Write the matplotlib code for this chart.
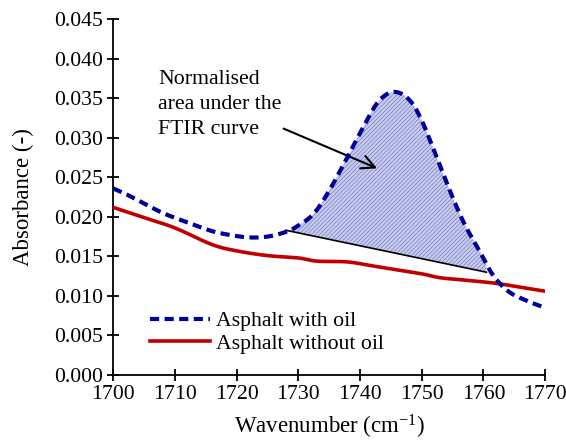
import numpy as np
import matplotlib
matplotlib.use("Agg")
import matplotlib.pyplot as plt

plt.rcParams['font.family'] = ['Liberation Serif', 'DejaVu Serif']
plt.rcParams['mathtext.fontset'] = 'custom'
plt.rcParams['mathtext.rm'] = 'Liberation Serif'
plt.rcParams['mathtext.it'] = 'Liberation Serif:italic'

# Data
wn_oil = [1700, 1702, 1705, 1708, 1712, 1716, 1719, 1722, 1725, 1728, 1730, 1732.5,
          1735, 1738, 1740.5, 1743, 1745.5, 1748, 1750, 1752.5, 1755, 1757, 1759.5,
          1761.5, 1764, 1767, 1770]
abs_oil = [0.0236, 0.0229, 0.0217, 0.0205, 0.0193, 0.0182, 0.0177, 0.0174, 0.0175,
           0.0181, 0.0189, 0.0204, 0.0233, 0.0276, 0.0313, 0.0346, 0.0358, 0.0348,
           0.0322, 0.0274, 0.0225, 0.0190, 0.0155, 0.0127, 0.0106, 0.0094, 0.0085]

wn_no = [1700, 1705, 1710, 1716, 1720, 1725, 1730, 1733, 1738, 1742, 1746, 1750,
         1753, 1757, 1762, 1766, 1770]
abs_no = [0.0212, 0.0199, 0.0186, 0.0165, 0.0157, 0.0151, 0.0148, 0.0144, 0.0143,
          0.0138, 0.0133, 0.0128, 0.0123, 0.0120, 0.0116, 0.0111, 0.0106]

base_x = [1728, 1760.5]
base_y = [0.0183, 0.0130]

xticks = [1700, 1710, 1720, 1730, 1740, 1750, 1760, 1770]
yticks = [0.000, 0.005, 0.010, 0.015, 0.020, 0.025, 0.030, 0.035, 0.040, 0.045]


def smooth(x, y, n=12):
    """Catmull-Rom spline through the points, for drawing only."""
    x = np.asarray(x, float)
    y = np.asarray(y, float)
    px = np.concatenate(([2 * x[0] - x[1]], x, [2 * x[-1] - x[-2]]))
    py = np.concatenate(([2 * y[0] - y[1]], y, [2 * y[-1] - y[-2]]))
    ox, oy = [], []
    for i in range(1, len(px) - 2):
        t = np.linspace(0, 1, n, endpoint=False)
        for p, o in ((px, ox), (py, oy)):
            p0, p1, p2, p3 = p[i - 1], p[i], p[i + 1], p[i + 2]
            o.extend(0.5 * ((2 * p1) + (-p0 + p2) * t +
                            (2 * p0 - 5 * p1 + 4 * p2 - p3) * t ** 2 +
                            (-p0 + 3 * p1 - 3 * p2 + p3) * t ** 3))
    ox.append(x[-1])
    oy.append(y[-1])
    return np.array(ox), np.array(oy)


sx_oil, sy_oil = smooth(wn_oil, abs_oil)
sx_no, sy_no = smooth(wn_no, abs_no)

FS = 15.7
fig = plt.figure(figsize=(5.66, 4.42), dpi=100)
ax = fig.add_axes([0.2, 0.1516, 0.763, 0.805])

# shaded area
m = (sx_oil >= base_x[0]) & (sx_oil <= base_x[1])
xs = np.concatenate(([base_x[0]], sx_oil[m], [base_x[1]]))
top = np.interp(xs, sx_oil, sy_oil)
bot = np.interp(xs, base_x, base_y)
plt.rcParams['hatch.color'] = '#7880cc'
plt.rcParams['hatch.linewidth'] = 0.5
ax.fill_between(xs, bot, top, facecolor='#c8cbea', edgecolor='#7880cc',
                hatch='////////', linewidth=0, zorder=1)
ax.plot(base_x, base_y, color='black', lw=1.2, zorder=2)

ax.plot(sx_no, sy_no, color='#c00000', lw=2.6, label='Asphalt without oil', zorder=3)
ax.plot(sx_oil, sy_oil, color='#00009a', lw=3, ls=(0, (2.2, 1.3)),
        label='Asphalt with oil', zorder=4)

ax.set_xlim(1700, 1770)
ax.set_ylim(0, 0.045)
ax.set_xticks(xticks)
ax.set_yticks(yticks)
ax.set_yticklabels([f"{v:.3f}" for v in yticks])
ax.spines['top'].set_visible(False)
ax.spines['right'].set_visible(False)
for s in ['left', 'bottom']:
    ax.spines[s].set_linewidth(1.3)
ax.tick_params(direction='inout', length=9, width=1.3, labelsize=FS, pad=3)
ax.set_xlabel('Wavenumber (cm$^{\\mathregular{-1}}$)', fontsize=16.5, labelpad=6)
ax.set_ylabel('Absorbance (-)', fontsize=16.5, labelpad=14)

handles, labels = ax.get_legend_handles_labels()
ax.legend(handles[::-1], labels[::-1], loc='lower left', bbox_to_anchor=(0.085, 0.06),
          frameon=False, fontsize=FS, handlelength=2.75, labelspacing=0.1,
          handletextpad=0.3, borderaxespad=0, borderpad=0)

ax.annotate('', xy=(1743.2, 0.0260), xytext=(1727.2, 0.0313),
            arrowprops=dict(arrowstyle='->', color='black', lw=1.5,
                            mutation_scale=24))
ax.text(1707.3, 0.0386, 'Normalised\narea under the\nFTIR curve', fontsize=FS,
        ha='left', va='top', linespacing=1.45)

fig.savefig('out.png', dpi=100)
